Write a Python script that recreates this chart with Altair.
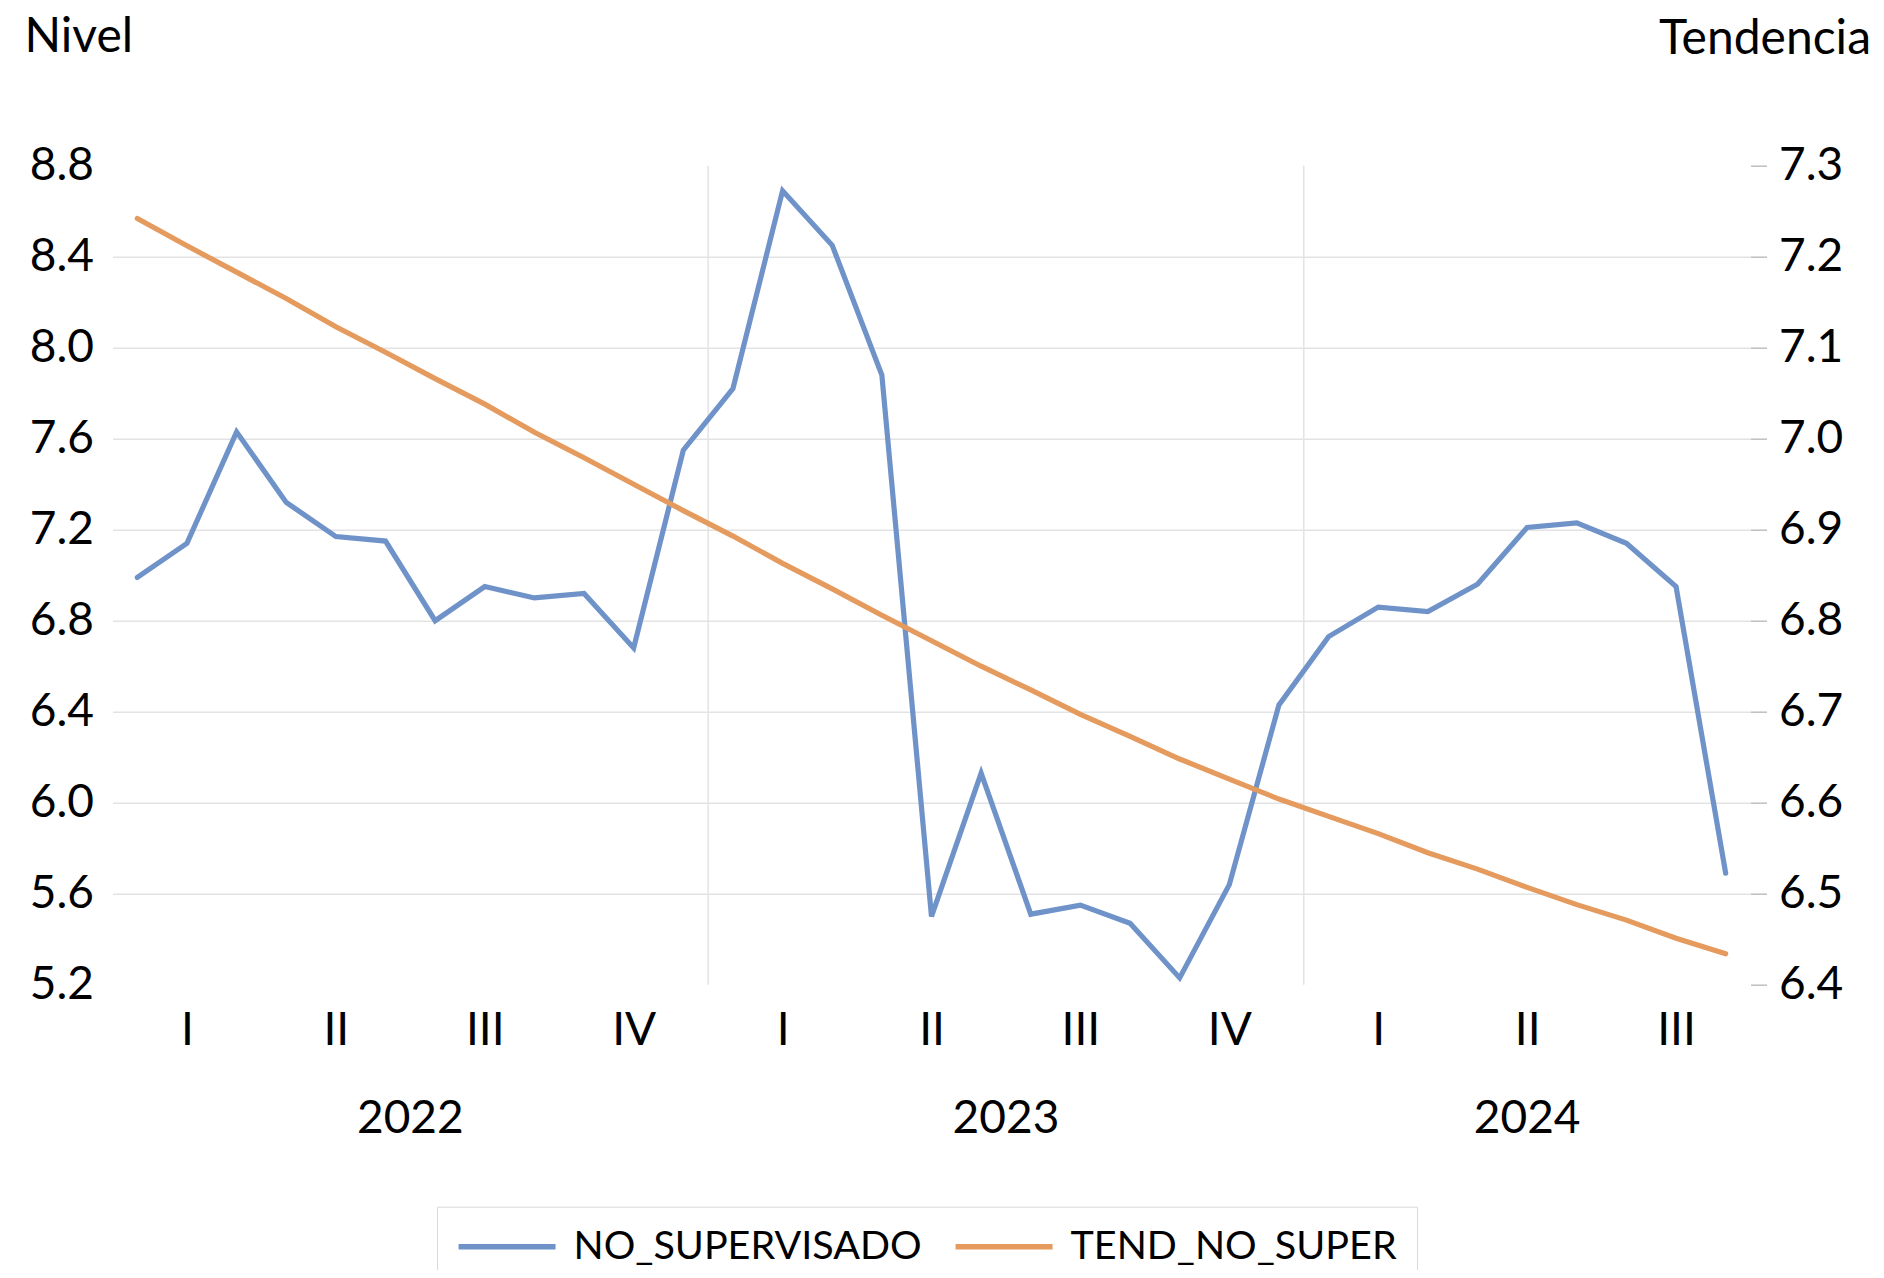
import json
import altair as alt
import pandas as pd

# ---------------- data ----------------
anios = ["2022", "2023", "2024"]
meses_por_anio = [12, 12, 9]
cuartos = ["I", "II", "III", "IV"]

serie_nivel = "NO_SUPERVISADO"
serie_tend = "TEND_NO_SUPER"

nivel = [6.99, 7.14, 7.63, 7.32, 7.17, 7.15, 6.80, 6.95, 6.90, 6.92, 6.68, 7.55,
         7.82, 8.69, 8.45, 7.88, 5.50, 6.13, 5.51, 5.55, 5.47, 5.23, 5.64, 6.43,
         6.73, 6.86, 6.84, 6.96, 7.21, 7.23, 7.14, 6.95, 5.69]

tend = [7.242, 7.212, 7.183, 7.154, 7.123, 7.095, 7.066, 7.038, 7.007, 6.979, 6.950, 6.921,
        6.893, 6.863, 6.835, 6.806, 6.778, 6.750, 6.724, 6.697, 6.673, 6.648, 6.626, 6.604,
        6.585, 6.566, 6.545, 6.527, 6.507, 6.488, 6.471, 6.451, 6.434]

ticks_nivel = [5.2, 5.6, 6.0, 6.4, 6.8, 7.2, 7.6, 8.0, 8.4, 8.8]
ticks_tend = [6.4, 6.5, 6.6, 6.7, 6.8, 6.9, 7.0, 7.1, 7.2, 7.3]

# ---------------- tables ----------------
mes_anio, mes_num = [], []
for a, n in zip(anios, meses_por_anio):
    for m in range(1, n + 1):
        mes_anio.append(a)
        mes_num.append(m)
idx = list(range(len(mes_num)))

df_nivel = pd.DataFrame({"idx": idx, "anio": mes_anio, "mes": mes_num,
                         "valor": nivel, "serie": serie_nivel})
df_tend = pd.DataFrame({"idx": idx, "anio": mes_anio, "mes": mes_num,
                        "valor": tend, "serie": serie_tend})

# quarter label under the middle month of each quarter
q_ticks = [i for i, m in zip(idx, mes_num) if m % 3 == 2]
q_labels = [cuartos[(m - 1) // 3] for m in mes_num]
label_expr = json.dumps(q_labels) + "[datum.value]"

# year labels centered on each year's months, separators between years
df_years = pd.DataFrame({
    "anio": anios,
    "idx": [sum(i for i, a in zip(idx, mes_anio) if a == y) / mes_anio.count(y) for y in anios],
})
ends = []
acc = 0
for n in meses_por_anio[:-1]:
    acc += n
    ends.append(acc - 0.5)
df_sep = pd.DataFrame({"idx": ends})

# ---------------- chart ----------------
FONT = "Lato"
W, H = 1638, 819
LBL = 46
xscale = alt.Scale(domain=[-0.5, len(idx) - 0.5], nice=False, zero=False)
color = alt.Color(
    "serie:N",
    scale=alt.Scale(domain=[serie_nivel, serie_tend], range=["#6F93C9", "#E59A5E"]),
    legend=alt.Legend(
        title=None, orient="none", legendX=324.5, legendY=1041, direction="horizontal",
        symbolType="M-1.5,0H6.5", symbolSize=588, symbolStrokeWidth=5.5,
        labelFont=FONT, labelFontSize=39.5, labelColor="black", labelOffset=77,
        labelLimit=1000, columnPadding=22, padding=20,
        strokeColor="#D9D9D9", fillColor="white",
    ),
)

x_axis = alt.Axis(values=q_ticks, labelExpr=label_expr, title=None, grid=False,
                  ticks=False, domain=False, labelFont=FONT, labelFontSize=LBL,
                  labelColor="black", labelPadding=24, labelFlush=False, labelOverlap=False)

sep = alt.Chart(df_sep).mark_rule(color="#E3E3E3", strokeWidth=1.5).encode(
    x=alt.X("idx:Q", scale=xscale, axis=x_axis)
)

blue = alt.Chart(df_nivel).mark_line(strokeWidth=5.2, strokeCap="round", strokeJoin="miter").encode(
    x=alt.X("idx:Q", scale=xscale),
    y=alt.Y("valor:Q", scale=alt.Scale(domain=[5.2, 8.8], nice=False, zero=False),
            axis=alt.Axis(orient="left", values=ticks_nivel, format=".1f",
                          title="Nivel", titleAngle=0, titleAlign="left", titleBaseline="middle",
                          titleX=-88.5, titleY=-128, titleFont=FONT, titleFontSize=48,
                          titleFontWeight="normal", titleColor="black",
                          grid=True, gridColor="#E3E3E3", gridWidth=1.5,
                          gridOpacity={"condition": {"test": "datum.value < 5.3 || datum.value > 8.7", "value": 0}, "value": 1},
                          ticks=False, tickSize=0, domain=False,
                          labelFont=FONT, labelFontSize=LBL, labelColor="black", labelPadding=19)),
    color=color,
)

orange = alt.Chart(df_tend).mark_line(strokeWidth=5.2, strokeCap="round").encode(
    x=alt.X("idx:Q", scale=xscale),
    y=alt.Y("valor:Q", scale=alt.Scale(domain=[6.4, 7.3], nice=False, zero=False),
            axis=alt.Axis(orient="right", values=ticks_tend, format=".1f",
                          title="Tendencia", titleAngle=0, titleAlign="right", titleBaseline="middle",
                          titleX=120, titleY=-126, titleFont=FONT, titleFontSize=48,
                          titleFontWeight="normal", titleColor="black",
                          grid=False, domain=False, ticks=True, tickSize=16,
                          tickColor="#BFBFBF", tickWidth=1.5,
                          labelFont=FONT, labelFontSize=LBL, labelColor="black", labelPadding=12)),
    color=color,
)

years = alt.Chart(df_years).mark_text(font=FONT, fontSize=LBL, color="black", baseline="middle").encode(
    x=alt.X("idx:Q", scale=xscale),
    y=alt.value(H + 134),
    text="anio:N",
)

chart = (
    alt.layer(sep, blue, orange, years)
    .resolve_scale(y="independent")
    .properties(
        width=W, height=H,
        padding={"left": 104.5, "top": 157.7, "right": 1868 - 104.5 - W, "bottom": 1262 - 157.7 - H},
        autosize=alt.AutoSizeParams(type="none"),
        background="white",
    )
    .configure(font=FONT)
    .configure_view(stroke="transparent", strokeWidth=0)
)

chart.save("out.html", embed_options={"renderer": "svg", "actions": False})
